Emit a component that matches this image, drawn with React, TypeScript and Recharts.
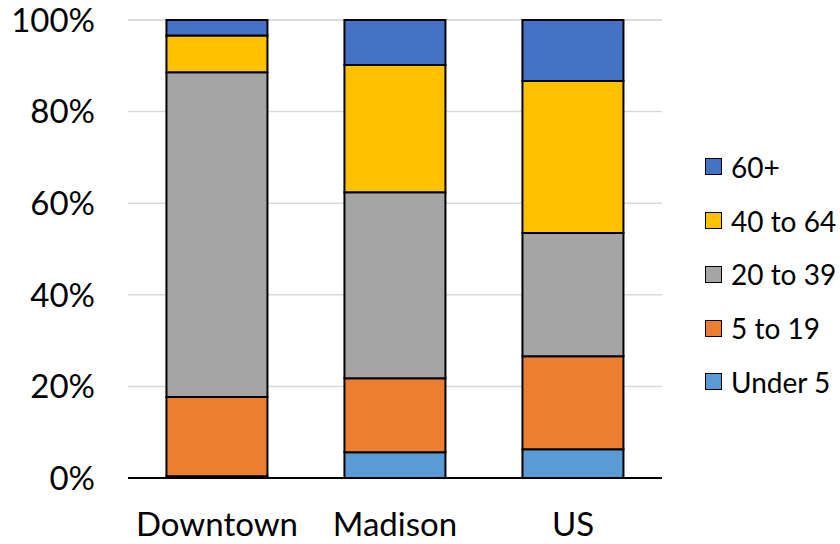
import React from 'react';
import { BarChart, Bar, XAxis, YAxis, CartesianGrid, Legend } from 'recharts';

const categories = ['Downtown', 'Madison', 'US'];
const under5 = [0.4, 5.6, 6.3];
const age5to19 = [17.3, 16.2, 20.3];
const age20to39 = [70.9, 40.6, 26.9];
const age40to64 = [8.0, 27.8, 33.2];
const age60plus = [3.4, 9.8, 13.3];
const yTicks = [0, 20, 40, 60, 80, 100];

const seriesDefs = [
  { key: 'under5', name: 'Under 5', values: under5, color: '#5B9BD5' },
  { key: 'a5to19', name: '5 to 19', values: age5to19, color: '#ED7D31' },
  { key: 'a20to39', name: '20 to 39', values: age20to39, color: '#A5A5A5' },
  { key: 'a40to64', name: '40 to 64', values: age40to64, color: '#FFC000' },
  { key: 'a60plus', name: '60+', values: age60plus, color: '#4472C4' },
];

const data = categories.map((c, i) => {
  const row: Record<string, any> = { category: c };
  seriesDefs.forEach((s) => {
    row[s.key] = s.values[i];
  });
  return row;
});

const FONT = 'Lato, "Open Sans", sans-serif';

const LegendContent = () => {
  const items = [...seriesDefs].reverse();
  return (
    <div style={{ display: 'flex', flexDirection: 'column', fontFamily: FONT }}>
      {items.map((it) => (
        <div
          key={it.key}
          style={{ height: 53.75, display: 'flex', alignItems: 'center', whiteSpace: 'nowrap' }}
        >
          <span
            style={{
              display: 'inline-block',
              width: 15,
              height: 15,
              background: it.color,
              border: '1.5px solid #000',
              marginRight: 9,
            }}
          />
          <span style={{ fontSize: 28, color: '#000', lineHeight: 1 }}>{it.name}</span>
        </div>
      ))}
    </div>
  );
};

export default function App() {
  return (
    <div style={{ position: 'fixed', left: 0, top: 0, width: 840, height: 544, background: '#fff' }}>
      <BarChart
        width={840}
        height={544}
        data={data}
        margin={{ top: 20, right: 43, bottom: 6, left: 0 }}
        barCategoryGap="21.6%"
      >
        <CartesianGrid vertical={false} stroke="#d9d9d9" strokeWidth={1.5} />
        <XAxis
          dataKey="category"
          axisLine={{ stroke: '#000', strokeWidth: 2 }}
          tickLine={false}
          tickSize={0}
          tickMargin={35}
          height={60}
          tick={{ fill: '#000', fontSize: 33, fontFamily: FONT }}
          interval={0}
        />
        <YAxis
          width={128}
          domain={[0, 100]}
          ticks={yTicks}
          axisLine={false}
          tickLine={false}
          tickSize={0}
          tickMargin={33}
          tickFormatter={(v: number) => `${v}%`}
          tick={{ fill: '#000', fontSize: 33, fontFamily: FONT }}
          interval={0}
        />
        <Legend
          layout="vertical"
          align="right"
          verticalAlign="top"
          content={<LegendContent />}
          wrapperStyle={{ position: 'absolute', left: 705, top: 140, width: 135 }}
        />
        {seriesDefs.map((s) => (
          <Bar
            key={s.key}
            dataKey={s.key}
            name={s.name}
            stackId="a"
            fill={s.color}
            stroke="#000"
            strokeWidth={2}
            isAnimationActive={false}
          />
        ))}
      </BarChart>
    </div>
  );
}
